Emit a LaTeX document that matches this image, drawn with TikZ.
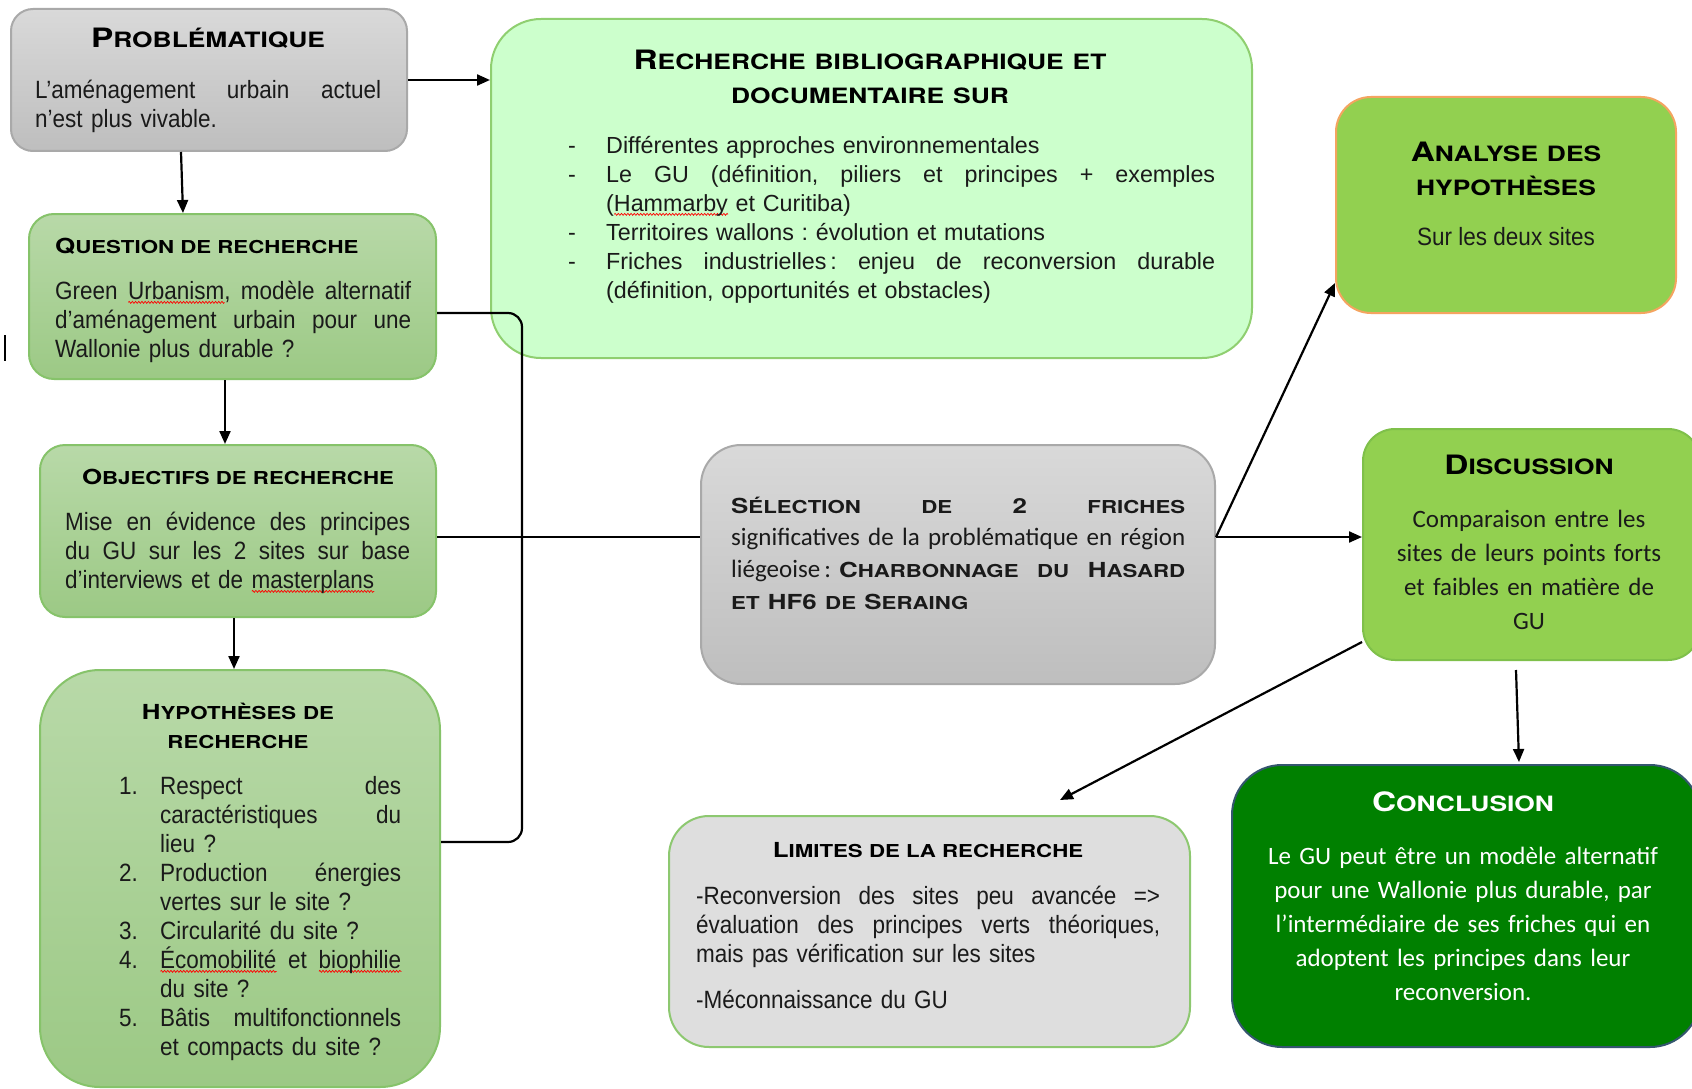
\documentclass[tikz,border=0pt]{standalone}
\usepackage{fontspec}
\setmainfont{Liberation Sans}
\newfontfamily\tallA{Liberation Sans}[FakeStretch=0.9]
\newfontfamily\calib{Carlito}
\newfontfamily\cpfont{TeX Gyre Heros}[FakeStretch=1.25]
\usetikzlibrary{arrows.meta,decorations.pathmorphing}
\definecolor{gyT}{HTML}{D9D9D9}
\definecolor{gyB}{HTML}{BEBEBE}
\definecolor{gyBd}{HTML}{A9A9A9}
\definecolor{rechF}{HTML}{CCFFCC}
\definecolor{rechBd}{HTML}{8FCF70}
\definecolor{lgT}{HTML}{B8D9A8}
\definecolor{lgB}{HTML}{9CC985}
\definecolor{lgBd}{HTML}{86C36A}
\definecolor{brG}{HTML}{92D050}
\definecolor{anaBd}{HTML}{F4A460}
\definecolor{discBd}{HTML}{7FC04A}
\definecolor{limF}{HTML}{DEDEDE}
\definecolor{limBd}{HTML}{8DC870}
\definecolor{concF}{HTML}{008000}
\definecolor{concBd}{HTML}{34566E}
\definecolor{txt}{HTML}{1A1A1A}
\newsavebox\sqbox
\newcommand\squig[1]{\leavevmode\sbox\sqbox{#1}\rlap{\raisebox{-4.5pt}{\tikz[x=1pt,y=1pt]\draw[red, line width=0.7pt, decorate, decoration={zigzag, segment length=3.2pt, amplitude=1pt}] (0,0) -- (\the\wd\sqbox,0);}}\usebox\sqbox}
\newcommand\capA[1]{{\fontsize{26.7}{26.7}\selectfont #1}}
\newcommand\capa[1]{{\fontsize{21.1}{21.1}\selectfont #1}}
\newcommand\capB[1]{{\fontsize{20.7}{20.7}\selectfont #1}}
\newcommand\capb[1]{{\fontsize{17.8}{17.8}\selectfont #1}}
% justified line of given width
\newcommand\jw[2]{\leavevmode\hbox to #1{\spaceskip=0.25em plus 1fil\relax #2}}
\newcommand\NJ[4]{\leavevmode\makebox[#1][l]{#3}\jw{#2}{#4}}
\newcommand\NL[3]{\leavevmode\makebox[#1][l]{#2}#3}
\tikzset{
  box/.style={draw, rounded corners=#1, line width=2pt, inner sep=0pt},
  greyfill/.style={top color=gyT, bottom color=gyB, draw=gyBd},
  lgfill/.style={top color=lgT, bottom color=lgB, draw=lgBd},
  bodyA/.style={font=\tallA\fontsize{25}{29}\selectfont, text=txt, align=left, inner sep=0pt},
  bodyR/.style={font=\fontsize{23.3}{29}\selectfont, text=txt, align=left, inner sep=0pt},
  bodyC/.style={font=\calib\fontsize{25}{34}\selectfont, text=txt, align=center, inner sep=0pt},
  ttlA/.style={font=\cpfont\bfseries\fontsize{26.7}{34}\selectfont, inner sep=0pt},
  ttlB/.style={font=\cpfont\bfseries\fontsize{20.7}{29}\selectfont, inner sep=0pt},
  arr/.style={line width=2.2pt, -{Triangle[length=13pt,width=11pt]}},
  ln/.style={line width=2.2pt}
}
\begin{document}
\frenchspacing
\begin{tikzpicture}[x=1pt,y=-1pt]
\fill[white] (0,0) rectangle (1692,1089);
\useasboundingbox (0,0) rectangle (1692,1089);

% boxes
\node[box=22pt, greyfill, minimum width=396pt, minimum height=142pt] (prob) at (209,80) {};
\node[box=50pt, fill=rechF, draw=rechBd, minimum width=761pt, minimum height=339pt] (rech) at (871.5,188.5) {};
\node[box=35pt, fill=brG, draw=anaBd, minimum width=340pt, minimum height=216pt] (ana) at (1506,205) {};
\node[box=25pt, lgfill, minimum width=407pt, minimum height=165pt] (q) at (232.5,296.5) {};
\node[box=25pt, lgfill, minimum width=396pt, minimum height=172pt] (obj) at (238,531) {};
\node[box=40pt, greyfill, minimum width=514pt, minimum height=239pt] (sel) at (958,564.5) {};
\node[box=32pt, fill=brG, draw=discBd, minimum width=337pt, minimum height=231pt] (disc) at (1531.5,544.5) {};
\node[box=60pt, lgfill, minimum width=400pt, minimum height=417pt] (hyp) at (240,878.5) {};
\node[box=40pt, fill=limF, draw=limBd, minimum width=521pt, minimum height=231pt] (lim) at (929.5,931.5) {};
\node[box=50pt, fill=concF, draw=concBd, minimum width=468pt, minimum height=282pt] (conc) at (1466,906) {};

% texts
\node[ttlA, anchor=base] (probT) at (208,48) {\capA{P}\capa{ROBLÉMATIQUE}};
\node[bodyA, anchor=north west, text width=346pt] (probB) at (35,77.7)
  {\strut\jw{346pt}{L’aménagement urbain actuel}\\n’est plus vivable.};

\node[ttlA, anchor=north, text width=640pt, align=center] (rechT) at (870,45.2)
  {\strut\capA{R}\capa{ECHERCHE BIBLIOGRAPHIQUE ET}\\\capa{DOCUMENTAIRE SUR}};
\node[bodyR, anchor=north west, text width=647pt] (rechB) at (568,132.7)
  {\strut\NL{38pt}{-}{Différentes approches environnementales}\\
   \NJ{38pt}{609pt}{-}{Le GU (définition, piliers et principes + exemples}\\
   \NL{38pt}{}{(\squig{Hammarby} et Curitiba)}\\
   \NL{38pt}{-}{Territoires wallons : évolution et mutations}\\
   \NJ{38pt}{609pt}{-}{Friches industrielles\,: enjeu de reconversion durable}\\
   \NL{38pt}{}{(définition, opportunités et obstacles)}};

\node[ttlA, anchor=north, text width=320pt, align=center] (anaT) at (1506,137.2)
  {\strut\capA{A}\capa{NALYSE DES}\\\capa{HYPOTHÈSES}};
\node[bodyA, anchor=base] (anaB) at (1506,245) {Sur les deux sites};

\node[ttlB, anchor=base west] (qT) at (55,253) {\capB{Q}\capb{UESTION DE RECHERCHE}};
\node[bodyA, anchor=north west, text width=356pt] (qB) at (55,278.7)
  {\strut\jw{356pt}{Green \squig{Urbanism}, modèle alternatif}\\\jw{356pt}{d’aménagement urbain pour une}\\Wallonie plus durable ?};

\node[ttlB, anchor=base] (objT) at (238,484) {\capB{O}\capb{BJECTIFS DE RECHERCHE}};
\node[bodyA, anchor=north west, text width=345pt] (objB) at (65,509.7)
  {\strut\jw{345pt}{Mise en évidence des principes}\\\jw{345pt}{du GU sur les 2 sites sur base}\\d’interviews et de \squig{masterplans}};

\node[ttlB, anchor=north, text width=360pt, align=center] (hypT) at (238,698.7)
  {\strut\capB{H}\capb{YPOTHÈSES DE}\\\capb{RECHERCHE}};
\node[bodyA, anchor=north west, text width=282pt] (hypB) at (119,773.7)
  {\strut\NJ{41pt}{241pt}{1.}{Respect des}\\
   \NJ{41pt}{241pt}{}{caractéristiques du}\\
   \NL{41pt}{}{lieu ?}\\
   \NJ{41pt}{241pt}{2.}{Production énergies}\\
   \NL{41pt}{}{vertes sur le site ?}\\
   \NL{41pt}{3.}{Circularité du site ?}\\
   \NJ{41pt}{241pt}{4.}{\squig{Écomobilité} et \squig{biophilie}}\\
   \NL{41pt}{}{du site ?}\\
   \NJ{41pt}{241pt}{5.}{Bâtis multifonctionnels}\\
   \NL{41pt}{}{et compacts du site ?}};

\node[anchor=north west, text width=454pt, align=left, inner sep=0pt, text=txt,
      font=\calib\fontsize{25}{31.7}\selectfont] (selB) at (731,491.6)
  {\strut\jw{454pt}{\cpfont\bfseries\capB{S}\capb{ÉLECTION} \capb{DE} \capB{2} \capb{FRICHES}}\\
   \jw{454pt}{significatives de la problématique en région}\\
   \jw{454pt}{liégeoise\,:\hspace{8pt}{\cpfont\bfseries\capB{C}\capb{HARBONNAGE} \capb{DU} \capB{H}\capb{ASARD}}}\\
   {\cpfont\bfseries\capb{ET} \capB{HF6} \capb{DE} \capB{S}\capb{ERAING}}};

\node[ttlA, anchor=base] (discT) at (1529,474) {\capA{D}\capa{ISCUSSION}};
\node[bodyC, anchor=north, text width=330pt] (discB) at (1529,503.2)
  {\strut Comparaison entre les\\sites de leurs points forts\\et faibles en matière de\\GU};

\node[ttlA, anchor=base, text=white] (concT) at (1463,811) {\capA{C}\capa{ONCLUSION}};
\node[bodyC, anchor=north, text width=450pt, text=white] (concB) at (1463,840.2)
  {\strut Le GU peut être un modèle alternatif\\pour une Wallonie plus durable, par\\l’intermédiaire de ses friches qui en\\adoptent les principes dans leur\\reconversion.};

\node[ttlB, anchor=base] (limT) at (928,857) {\capB{L}\capb{IMITES DE LA RECHERCHE}};
\node[bodyA, anchor=north west, text width=464pt] (limB) at (696,883.7)
  {\strut\jw{464pt}{-Reconversion des sites peu avancée =>}\\\jw{464pt}{évaluation des principes verts théoriques,}\\mais pas vérification sur les sites\\[17pt]-Méconnaissance du GU};

% connectors
\draw[arr] (prob.east) -- (prob.east -| rech.west);
\draw[arr] ([xshift=-28pt]prob.south) -- ([xshift=-49.5pt]q.north);
\draw[arr] ([xshift=-7.5pt]q.south) -- ([xshift=-13pt]obj.north);
\draw[arr] ([xshift=-4pt]obj.south) -- ([xshift=-6pt]hyp.north);
\draw[ln, rounded corners=14pt] ([yshift=-16.5pt]q.east) -| ([xshift=81pt,yshift=36.5pt]hyp.east) -- ([yshift=36.5pt]hyp.east);
\draw[ln] ([yshift=-6pt]obj.east) -- ([yshift=-6pt]obj.east -| sel.west);
\coordinate (selR) at ([yshift=27.5pt]sel.east);
\draw[arr] (selR) -- ([yshift=-78pt]ana.west);
\draw[arr] (selR) -- (selR -| disc.west);
\draw[arr] ([yshift=-97.5pt]disc.west) -- ([xshift=130.5pt,yshift=15pt]lim.north);
\draw[arr] ([xshift=-15.5pt,yshift=-9pt]disc.south) -- ([xshift=53pt,yshift=2pt]conc.north);
\draw[line width=1.3pt] (5,335) -- (5,361);
\end{tikzpicture}
\end{document}
